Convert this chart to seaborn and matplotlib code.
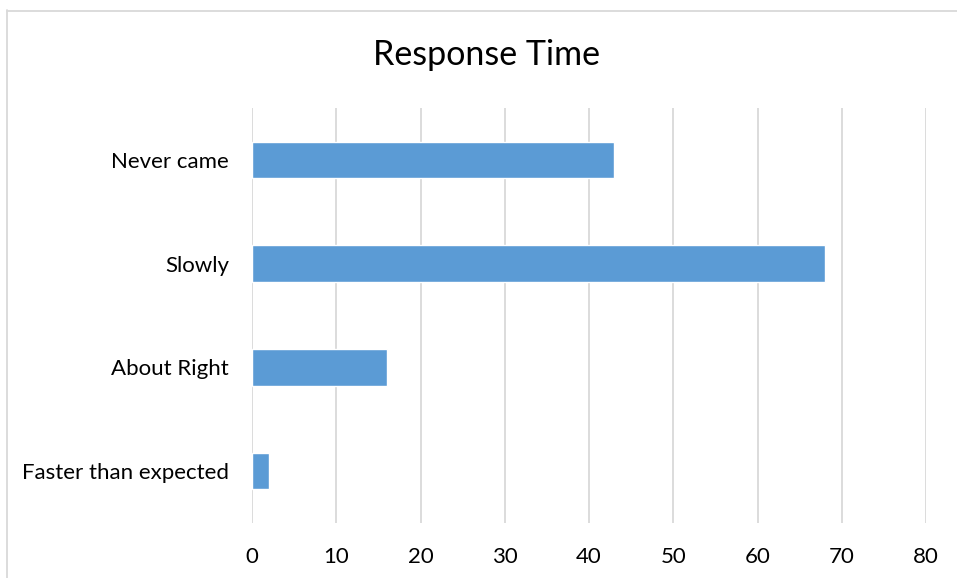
import matplotlib
matplotlib.use("Agg")
import matplotlib.pyplot as plt
from matplotlib.lines import Line2D
import seaborn as sns
import pandas as pd

categories = ["Never came", "Slowly", "About Right", "Faster than expected"]
values = [43, 68, 16, 2]
x_ticks = [0, 10, 20, 30, 40, 50, 60, 70, 80]

sns.set_theme(style="white")
plt.rcParams["font.family"] = ["Lato", "DejaVu Sans"]

W, H = 957, 578
fig = plt.figure(figsize=(W / 100, H / 100), dpi=100)
fig.patch.set_facecolor("white")

ax = fig.add_axes([252 / W, 1 - 523 / H, (926 - 252) / W, (523 - 108) / H])

df = pd.DataFrame({"category": categories, "value": values})
sns.barplot(data=df, x="value", y="category", order=categories, orient="h",
            color="#5b9bd5", saturation=1, width=0.354, ax=ax)

ax.set_xlim(0, 80)
ax.set_xticks(x_ticks)
ax.set_xticklabels([str(t) for t in x_ticks])
ax.set_xlabel("")
ax.set_ylabel("")
ax.grid(axis="x", color="#d9d9d9", linewidth=1.3)
ax.grid(axis="y", visible=False)
ax.set_axisbelow(True)
for s in ax.spines.values():
    s.set_visible(False)
ax.tick_params(axis="both", length=0, labelsize=16, colors="#000000")
ax.tick_params(axis="y", pad=16.5)
ax.tick_params(axis="x", pad=17)

fig.text(486.5 / W, 1 - 55 / H, "Response Time", ha="center", va="center",
         fontsize=24.5, color="#000000")

# chart frame
fig.add_artist(Line2D([7.5 / W, 7.5 / W], [1 - 10 / H, 0], transform=fig.transFigure,
                      color="#d9d9d9", linewidth=1.3))
fig.add_artist(Line2D([7 / W, 1], [1 - 10.5 / H, 1 - 10.5 / H], transform=fig.transFigure,
                      color="#d9d9d9", linewidth=1.3))

fig.savefig("out.png", dpi=100, facecolor="white")
